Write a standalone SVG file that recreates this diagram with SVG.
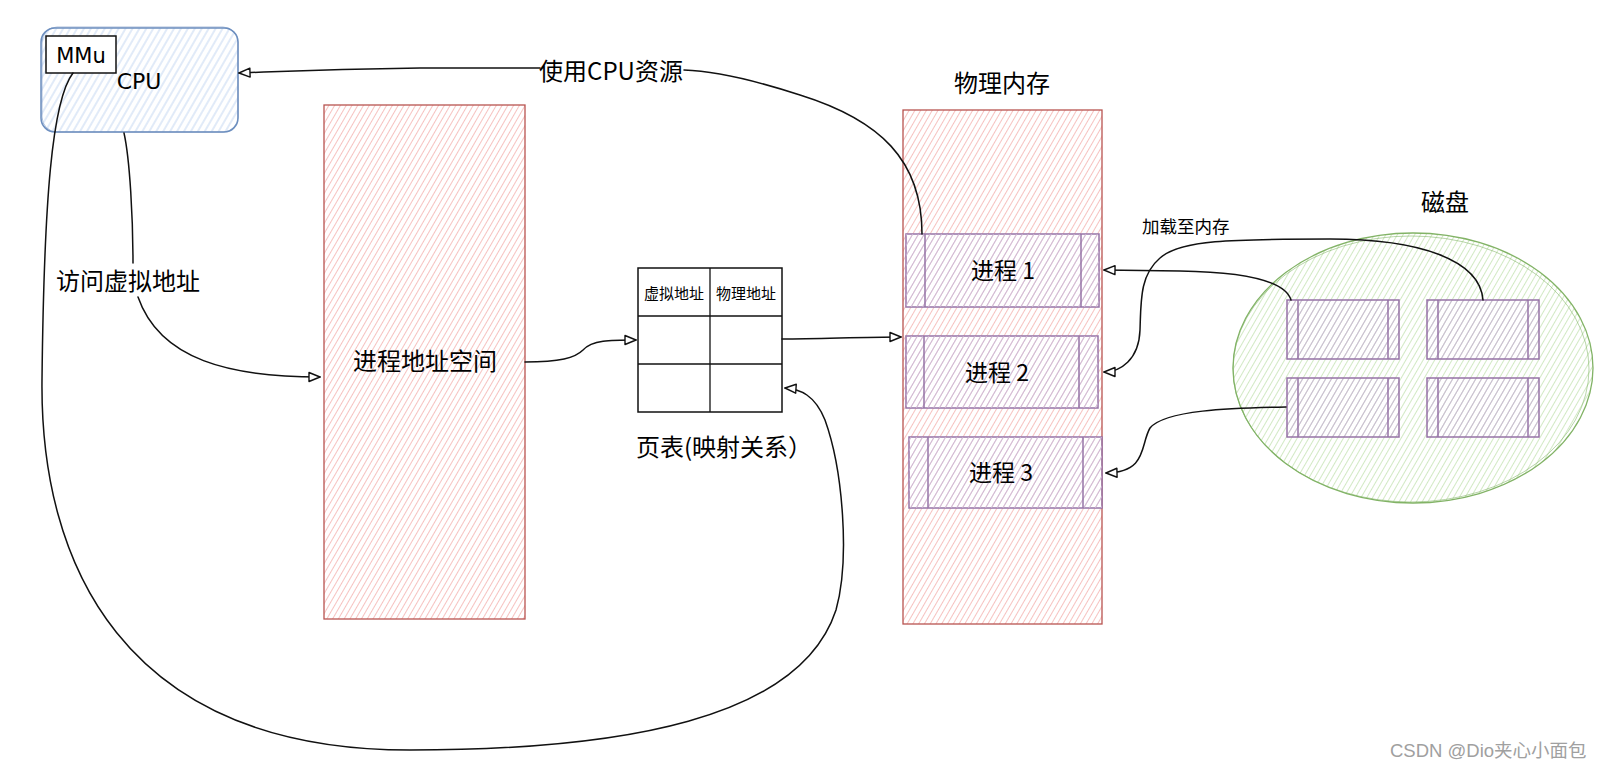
<svg xmlns="http://www.w3.org/2000/svg" width="1605" height="769" viewBox="0 0 1605 769">
<style>
.t{font-family:"Noto Sans CJK SC","Liberation Sans",sans-serif;fill:#000}
.hand{font-family:"DejaVu Sans","Liberation Sans",sans-serif;fill:#000}
.c{fill:none;stroke:#111;stroke-width:1.5;stroke-linecap:round}
.blue{stroke:#6c8ebf;stroke-width:1.5}
.red{stroke:#b85450;stroke-width:1.3}
.pur{stroke:#9673a6;stroke-width:1.5}
.grn{stroke:#82b366;stroke-width:1.3}
</style>
<defs>
<pattern id="hB" width="6" height="10" patternUnits="userSpaceOnUse" patternTransform="rotate(30)"><line x1="3" y1="0" x2="3" y2="10" stroke="#b4cbee" stroke-width="0.8"/></pattern>
<pattern id="hR" width="5" height="10" patternUnits="userSpaceOnUse" patternTransform="rotate(30)"><line x1="2.5" y1="0" x2="2.5" y2="10" stroke="#f4b2b0" stroke-width="0.8"/></pattern>
<pattern id="hP" width="5" height="10" patternUnits="userSpaceOnUse" patternTransform="rotate(30)"><line x1="2.5" y1="0" x2="2.5" y2="10" stroke="#c9b6d6" stroke-width="0.9"/></pattern>
<pattern id="hG" width="5" height="10" patternUnits="userSpaceOnUse" patternTransform="rotate(30)"><line x1="2.5" y1="0" x2="2.5" y2="10" stroke="#c6e3b5" stroke-width="0.8"/></pattern>
<marker id="arr" markerWidth="14" markerHeight="12" refX="12" refY="6" orient="auto" markerUnits="userSpaceOnUse"><path d="M1,1.5 L12,6 L1,10.5 Z" fill="#fff" stroke="#111" stroke-width="1.4" stroke-linejoin="round"/></marker>
</defs>
<rect width="1605" height="769" fill="#fff"/>

<g id="cpu">
<rect x="41" y="28" width="197" height="104" rx="14" fill="url(#hB)" class="blue"/>
<rect x="42" y="27" width="196" height="105" rx="15" fill="none" stroke="#6c8ebf" stroke-width="0.8" opacity="0.7"/>
<text x="139" y="89" class="hand" font-size="22" text-anchor="middle">CPU</text>
</g>
<g id="mmu">
<rect x="46" y="36" width="70" height="37" fill="#fff" stroke="#111" stroke-width="1.5"/>
<text x="81" y="63" class="hand" font-size="21" text-anchor="middle">MMu</text>
</g>

<g id="vspace">
<rect x="324" y="105" width="201" height="514" fill="url(#hR)" class="red"/>
<text x="425" y="370" class="t" font-size="24" text-anchor="middle">进程地址空间</text>
</g>

<g id="pagetable">
<rect x="638" y="268" width="144" height="144" fill="#fff" stroke="#111" stroke-width="1.5"/>
<line x1="638" y1="316" x2="782" y2="316" stroke="#111" stroke-width="1.3"/>
<line x1="638" y1="364" x2="782" y2="364" stroke="#111" stroke-width="1.3"/>
<line x1="710" y1="268" x2="710" y2="412" stroke="#111" stroke-width="1.3"/>
<text x="674" y="299" class="t" font-size="15" text-anchor="middle">虚拟地址</text>
<text x="746" y="299" class="t" font-size="15" text-anchor="middle">物理地址</text>
<text x="636" y="456" class="t" font-size="24">页表(映射关系）</text>
</g>

<g id="physmem">
<rect x="903" y="110" width="199" height="514" fill="url(#hR)" class="red"/>
<text x="1002" y="92" class="t" font-size="24" text-anchor="middle">物理内存</text>
</g>

<g id="proc1">
<rect x="906" y="234" width="193" height="73" fill="#fff" fill-opacity="0.35" class="pur"/>
<rect x="906" y="234" width="193" height="73" fill="url(#hP)" stroke="none"/>
<line x1="925" y1="234" x2="925" y2="307" class="pur"/>
<line x1="1081" y1="234" x2="1081" y2="307" class="pur"/>
<text x="1003" y="279" class="t" font-size="23" text-anchor="middle">进程 1</text>
</g>
<g id="proc2">
<rect x="906" y="336" width="192" height="72" fill="#fff" fill-opacity="0.35" class="pur"/>
<rect x="906" y="336" width="192" height="72" fill="url(#hP)" stroke="none"/>
<line x1="924" y1="336" x2="924" y2="408" class="pur"/>
<line x1="1079" y1="336" x2="1079" y2="408" class="pur"/>
<text x="997" y="381" class="t" font-size="23" text-anchor="middle">进程 2</text>
</g>
<g id="proc3">
<rect x="909" y="437" width="193" height="71" fill="#fff" fill-opacity="0.35" class="pur"/>
<rect x="909" y="437" width="193" height="71" fill="url(#hP)" stroke="none"/>
<line x1="928" y1="437" x2="928" y2="508" class="pur"/>
<line x1="1083" y1="437" x2="1083" y2="508" class="pur"/>
<text x="1001" y="481" class="t" font-size="23" text-anchor="middle">进程 3</text>
</g>

<g id="disk">
<ellipse cx="1413" cy="368" rx="180" ry="135" fill="url(#hG)" class="grn"/>
<ellipse cx="1411" cy="369" rx="178" ry="133" fill="none" stroke="#82b366" stroke-width="0.8" opacity="0.7"/>
<text x="1445" y="211" class="t" font-size="24" text-anchor="middle">磁盘</text>
</g>
<g id="diskA">
<rect x="1287" y="300" width="112" height="59" fill="url(#hP)" class="pur"/>
<line x1="1298" y1="300" x2="1298" y2="359" class="pur"/>
<line x1="1388" y1="300" x2="1388" y2="359" class="pur"/>
</g>
<g id="diskB">
<rect x="1427" y="300" width="112" height="59" fill="url(#hP)" class="pur"/>
<line x1="1438" y1="300" x2="1438" y2="359" class="pur"/>
<line x1="1528" y1="300" x2="1528" y2="359" class="pur"/>
</g>
<g id="diskC">
<rect x="1287" y="378" width="112" height="59" fill="url(#hP)" class="pur"/>
<line x1="1298" y1="378" x2="1298" y2="437" class="pur"/>
<line x1="1388" y1="378" x2="1388" y2="437" class="pur"/>
</g>
<g id="diskD">
<rect x="1427" y="378" width="112" height="59" fill="url(#hP)" class="pur"/>
<line x1="1438" y1="378" x2="1438" y2="437" class="pur"/>
<line x1="1528" y1="378" x2="1528" y2="437" class="pur"/>
</g>

<g id="connectors">
<path class="c" d="M124 133 C130 160, 133 220, 133 263"/>
<path class="c" d="M138 297 C160 360, 230 377, 320 377" marker-end="url(#arr)"/>
<text x="56" y="290" class="t" font-size="24">访问虚拟地址</text>

<path class="c" d="M922 234 C922 160, 880 120, 800 95 C760 82, 720 71, 684 70"/>
<path class="c" d="M540 68 L420 68 C320 69, 270 72, 239 73" marker-end="url(#arr)"/>
<text x="611" y="80" class="t" font-size="24" text-anchor="middle">使用CPU资源</text>

<path class="c" d="M525 362 C560 362, 575 358, 583 350 C592 340, 610 340, 636 340" marker-end="url(#arr)"/>
<path class="c" d="M782 339 C820 339, 860 337, 901 337" marker-end="url(#arr)"/>

<path class="c" d="M73 73 C52 100, 44 200, 42 380 C40 560, 120 750, 410 750 C620 750, 800 720, 836 610 C850 560, 843 470, 825 420 C815 395, 800 389, 785 388" marker-end="url(#arr)"/>

<path class="c" d="M1291 300 C1285 280, 1240 272, 1180 271 L1104 270" marker-end="url(#arr)"/>
<path class="c" d="M1483 300 C1480 260, 1420 239, 1330 239 C1230 239, 1180 240, 1160 258 C1140 275, 1141 300, 1140 330 C1139 360, 1120 372, 1104 372" marker-end="url(#arr)"/>
<text x="1142" y="233" class="t" font-size="17.5">加载至内存</text>
<path class="c" d="M1286 407 C1230 408, 1165 410, 1150 428 C1140 445, 1148 472, 1106 473" marker-end="url(#arr)"/>
</g>

<text x="1390" y="757" font-family="Liberation Sans, Noto Sans CJK SC, sans-serif" font-size="18.5" fill="#a0a0a0">CSDN @Dio夹心小面包</text>
</svg>
